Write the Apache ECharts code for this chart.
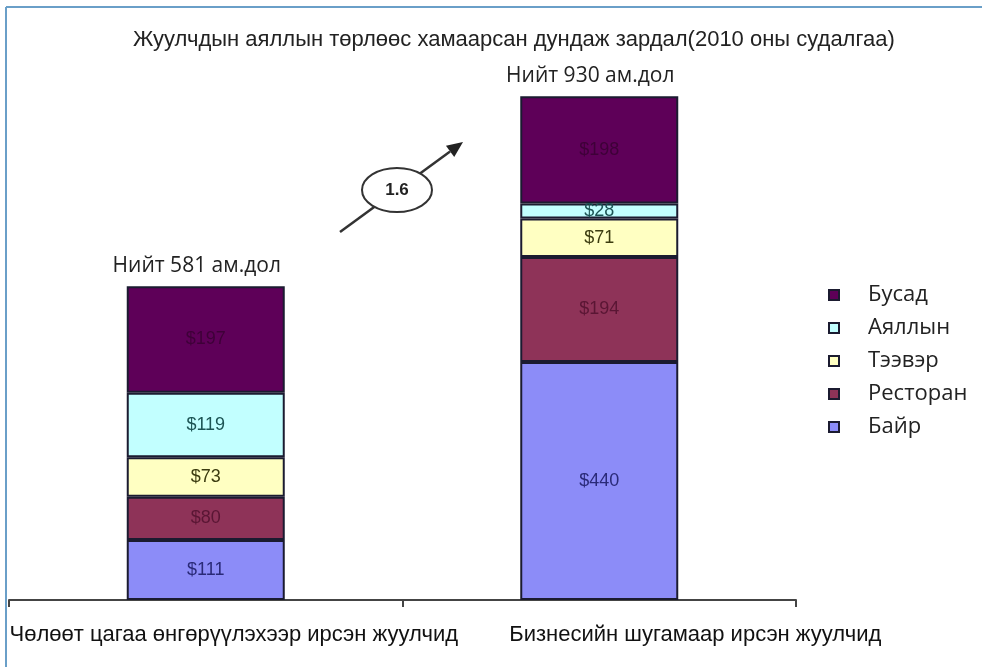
<!DOCTYPE html>
<html>
<head>
<meta charset="utf-8">
<script src="https://cdn.jsdelivr.net/npm/echarts@6/dist/echarts.min.js"></script>
<style>
  html, body { margin: 0; padding: 0; background: #fff; }
  #main { width: 982px; height: 667px; }
</style>
</head>
<body>
<div id="main"></div>
<script>
// data
var categories = ['Чөлөөт цагаа өнгөрүүлэхээр ирсэн жуулчид', 'Бизнесийн шугамаар ирсэн жуулчид'];
var housing = [111, 440];    // Байр
var restaurant = [80, 194];  // Ресторан
var transport = [73, 71];    // Тээвэр
var travel = [119, 28];      // Аяллын
var other = [197, 198];      // Бусад
var totals = [581, 930];
var ratio = '1.6';

var chart = echarts.init(document.getElementById('main'));

function seg(name, data, fill, labelColor) {
  return {
    name: name,
    type: 'bar',
    stack: 'all',
    barWidth: 158,
    data: data,
    itemStyle: { color: fill, borderColor: '#1b1b30', borderWidth: 2 },
    label: {
      show: true,
      position: 'inside',
      formatter: '${c}',
      color: labelColor,
      fontFamily: 'Liberation Sans, Arial',
      fontSize: 18
    }
  };
}

// arrow annotation between the bars
var ax1 = 340, ay1 = 232, ax2 = 463, ay2 = 142;
var ang = Math.atan2(ay2 - ay1, ax2 - ax1);
var hl = 16, hw = 7;
var bx = ax2 - hl * Math.cos(ang), by = ay2 - hl * Math.sin(ang);
var head = [
  [ax2, ay2],
  [bx + hw * Math.sin(ang), by - hw * Math.cos(ang)],
  [bx - hw * Math.sin(ang), by + hw * Math.cos(ang)]
];

chart.setOption({
  animation: false,
  title: {
    text: 'Жуулчдын аяллын төрлөөс хамаарсан дундаж зардал(2010 оны судалгаа)',
    left: 128,
    top: 24,
    textStyle: { fontFamily: 'Liberation Sans, Arial, sans-serif', fontSize: 22, fontWeight: 'normal', color: '#222' }
  },
  legend: {
    orient: 'vertical',
    left: 823,
    top: 279,
    itemWidth: 10,
    itemHeight: 10,
    itemGap: 11,
    icon: 'rect',
    data: ['Бусад', 'Аяллын', 'Тээвэр', 'Ресторан', 'Байр'],
    textStyle: { fontFamily: 'Open Sans, sans-serif', fontSize: 22, color: '#222', padding: [0, 0, 0, 24] }
  },
  grid: { left: 9, right: 186, top: 59, bottom: 67 },
  xAxis: {
    type: 'category',
    data: categories,
    axisLine: { lineStyle: { color: '#444', width: 2 } },
    axisTick: { show: true, length: 7, lineStyle: { color: '#444', width: 2 } },
    axisLabel: {
      margin: 24,
      interval: 0,
      formatter: function (v, i) { return i === 0 ? '{a|' + v + '}' : '{b|' + v + '}'; },
      rich: {
        a: { fontFamily: 'Liberation Sans, Arial, sans-serif', fontSize: 22, color: '#111', padding: [0, 0, 0, 56] },
        b: { fontFamily: 'Liberation Sans, Arial, sans-serif', fontSize: 22, color: '#111', padding: [0, 0, 0, 192] }
      }
    }
  },
  yAxis: { type: 'value', min: 0, max: 1000, show: false },
  series: [
    seg('Байр', housing, '#8c8cf8', '#2a2a78'),
    seg('Ресторан', restaurant, '#8e3358', '#5a1634'),
    seg('Тээвэр', transport, '#ffffc2', '#3c3c10'),
    seg('Аяллын', travel, '#c2ffff', '#1c5454'),
    seg('Бусад', other, '#5e0058', '#3e0038'),
    {
      name: 'total',
      type: 'bar',
      stack: 'all',
      barWidth: 158,
      data: [0, 0],
      itemStyle: { color: 'transparent' },
      label: {
        show: true,
        position: 'top',
        distance: 10,
        offset: [-9, 0],
        formatter: function (p) { return 'Нийт ' + totals[p.dataIndex] + ' ам.дол'; },
        fontFamily: 'Open Sans, sans-serif',
        fontSize: 21,
        color: '#222'
      }
    }
  ],
  graphic: [
    { type: 'line', shape: { x1: 6, y1: 7, x2: 982, y2: 7 }, style: { stroke: '#6a9fc8', lineWidth: 2 } },
    { type: 'line', shape: { x1: 6, y1: 7, x2: 6, y2: 667 }, style: { stroke: '#6a9fc8', lineWidth: 2 } },
    { type: 'line', shape: { x1: ax1, y1: ay1, x2: bx, y2: by }, style: { stroke: '#333', lineWidth: 2.5 } },
    { type: 'polygon', shape: { points: head }, style: { fill: '#222' } },
    { type: 'ellipse', shape: { cx: 397, cy: 190, rx: 35, ry: 22 }, style: { fill: '#fff', stroke: '#333', lineWidth: 2 } },
    { type: 'text', x: 397, y: 190, style: { text: ratio, fill: '#222', font: 'bold 17px Liberation Sans, Arial', align: 'center', verticalAlign: 'middle' } }
  ]
});
</script>
</body>
</html>
